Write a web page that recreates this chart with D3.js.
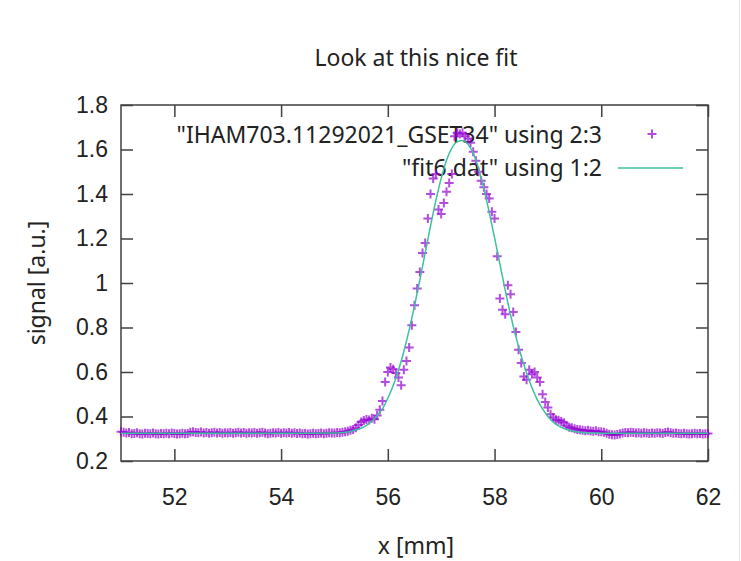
<!DOCTYPE html>
<html>
<head>
<meta charset="utf-8">
<script src="https://cdn.jsdelivr.net/npm/d3@7"></script>
<style>
  body { margin: 0; background: #fff; }
  svg { display: block; font-family: "Noto Sans", "Open Sans", sans-serif; }
</style>
</head>
<body>
<svg></svg>
<script>
// measured scan (x in mm, signal in a.u.)
let scatterX = [
  51, 51.05, 51.1, 51.15, 51.2, 51.25, 51.3, 51.35, 51.4, 51.45, 51.5, 51.55, 51.6, 51.65, 51.7, 51.75, 51.8, 51.85, 51.9, 51.95,
  52, 52.05, 52.1, 52.15, 52.2, 52.25, 52.3, 52.35, 52.4, 52.45, 52.5, 52.55, 52.6, 52.65, 52.7, 52.75, 52.8, 52.85, 52.9, 52.95,
  53, 53.05, 53.1, 53.15, 53.2, 53.25, 53.3, 53.35, 53.4, 53.45, 53.5, 53.55, 53.6, 53.65, 53.7, 53.75, 53.8, 53.85, 53.9, 53.95,
  54, 54.05, 54.1, 54.15, 54.2, 54.25, 54.3, 54.35, 54.4, 54.45, 54.5, 54.55, 54.6, 54.65, 54.7, 54.75, 54.8, 54.85, 54.9, 54.95,
  55, 55.05, 55.1, 55.15, 55.2, 55.25, 55.3, 55.35, 55.4, 55.45, 55.5, 55.55, 55.6, 55.65, 55.7, 55.75, 55.8, 55.85, 55.9, 55.95,
  56, 56.05, 56.1, 56.15, 56.2, 56.25, 56.3, 56.35, 56.4, 56.45, 56.5, 56.55, 56.6, 56.65, 56.7, 56.75, 56.8, 56.85, 56.9, 56.95,
  57, 57.05, 57.1, 57.15, 57.2, 57.25, 57.3, 57.35, 57.4, 57.45, 57.5, 57.55, 57.6, 57.65, 57.7, 57.75, 57.8, 57.85, 57.9, 57.95,
  58, 58.05, 58.1, 58.15, 58.2, 58.25, 58.3, 58.35, 58.4, 58.45, 58.5, 58.55, 58.6, 58.65, 58.7, 58.75, 58.8, 58.85, 58.9, 58.95,
  59, 59.05, 59.1, 59.15, 59.2, 59.25, 59.3, 59.35, 59.4, 59.45, 59.5, 59.55, 59.6, 59.65, 59.7, 59.75, 59.8, 59.85, 59.9, 59.95,
  60, 60.05, 60.1, 60.15, 60.2, 60.25, 60.3, 60.35, 60.4, 60.45, 60.5, 60.55, 60.6, 60.65, 60.7, 60.75, 60.8, 60.85, 60.9, 60.95,
  61, 61.05, 61.1, 61.15, 61.2, 61.25, 61.3, 61.35, 61.4, 61.45, 61.5, 61.55, 61.6, 61.65, 61.7, 61.75, 61.8, 61.85, 61.9, 61.95,
  62
];
let scatterY = [
  0.331, 0.329, 0.326, 0.328, 0.322, 0.324, 0.327, 0.323, 0.321, 0.325, 0.324, 0.322, 0.326, 0.323, 0.321, 0.324, 0.322, 0.325, 0.323, 0.326,
  0.324, 0.321, 0.323, 0.325, 0.322, 0.324, 0.329, 0.331, 0.328, 0.327, 0.330, 0.326, 0.328, 0.325, 0.327, 0.329, 0.326, 0.328, 0.325, 0.327,
  0.326, 0.328, 0.325, 0.327, 0.329, 0.326, 0.328, 0.325, 0.327, 0.326, 0.328, 0.325, 0.327, 0.329, 0.326, 0.323, 0.325, 0.327, 0.326, 0.328,
  0.325, 0.327, 0.326, 0.328, 0.325, 0.327, 0.324, 0.326, 0.322, 0.324, 0.321, 0.323, 0.325, 0.322, 0.324, 0.326, 0.323, 0.325, 0.327, 0.326,
  0.326, 0.328, 0.327, 0.329, 0.331, 0.334, 0.338, 0.342, 0.350, 0.362, 0.375, 0.382, 0.386, 0.384, 0.392, 0.388, 0.405, 0.430, 0.470, 0.555,
  0.600, 0.620, 0.612, 0.595, 0.575, 0.540, 0.610, 0.650, 0.710, 0.810, 0.900, 0.975, 1.050, 1.135, 1.180, 1.290, 1.400, 1.470, 1.490, 1.330,
  1.310, 1.360, 1.410, 1.450, 1.490, 1.660, 1.675, 1.670, 1.675, 1.660, 1.650, 1.630, 1.590, 1.550, 1.500, 1.460, 1.430, 1.400, 1.380, 1.320,
  1.290, 1.120, 0.930, 0.880, 0.860, 0.990, 0.950, 0.870, 0.780, 0.700, 0.640, 0.580, 0.565, 0.610, 0.590, 0.600, 0.575, 0.555, 0.500, 0.465,
  0.440, 0.410, 0.395, 0.385, 0.383, 0.378, 0.372, 0.360, 0.352, 0.350, 0.345, 0.342, 0.340, 0.338, 0.336, 0.338, 0.335, 0.334, 0.336, 0.332,
  0.331, 0.329, 0.325, 0.320, 0.318, 0.317, 0.319, 0.322, 0.326, 0.328, 0.327, 0.329, 0.328, 0.326, 0.327, 0.325, 0.327, 0.326, 0.324, 0.326,
  0.325, 0.327, 0.326, 0.324, 0.328, 0.330, 0.327, 0.325, 0.326, 0.324, 0.322, 0.325, 0.323, 0.321, 0.323, 0.325, 0.322, 0.324, 0.321, 0.323,
  0.324
];

// fit curve
let fitX = [
  51, 52, 53, 54, 54.5, 55, 55.1, 55.2, 55.3, 55.4, 55.5, 55.6, 55.7, 55.8, 55.9,
  56, 56.1, 56.2, 56.3, 56.4, 56.5, 56.6, 56.7, 56.8, 56.9,
  57, 57.1, 57.2, 57.3, 57.4, 57.5, 57.6, 57.7, 57.8, 57.9,
  58, 58.1, 58.2, 58.3, 58.4, 58.5, 58.6, 58.7, 58.8, 58.9,
  59, 59.1, 59.2, 59.3, 59.4, 59.5, 59.6, 59.7, 59.8, 59.9,
  60, 60.5, 61, 62
];
let fitY = [
  0.325, 0.325, 0.325, 0.325, 0.325, 0.326, 0.327, 0.329, 0.333, 0.339, 0.347, 0.360, 0.379, 0.404, 0.434,
  0.482, 0.538, 0.608, 0.692, 0.789, 0.897, 1.013, 1.135, 1.256, 1.370,
  1.470, 1.552, 1.606, 1.634, 1.640, 1.625, 1.584, 1.515, 1.424, 1.318,
  1.204, 1.086, 0.968, 0.857, 0.759, 0.672, 0.596, 0.530, 0.476, 0.434,
  0.400, 0.375, 0.358, 0.346, 0.338, 0.333, 0.329, 0.327, 0.326, 0.326,
  0.325, 0.325, 0.325, 0.325
];

let xTicks = [52, 54, 56, 58, 60, 62];
let yTicks = [0.2, 0.4, 0.6, 0.8, 1, 1.2, 1.4, 1.6, 1.8];
let legendLabels = ['"IHAM703.11292021_GSET34" using 2:3', '"fit6.dat" using 1:2'];

let width = 741, height = 561;
let plotLeft = 121, plotRight = 708, plotTop = 105, plotBottom = 461;
let pointColor = '#9400d3', lineColor = '#3cc09f', axisColor = '#404040';
let fontSize = '23px';

let svg = d3.select('svg').attr('width', width).attr('height', height);

let xScale = d3.scaleLinear().domain([51, 62]).range([plotLeft, plotRight]);
let yScale = d3.scaleLinear().domain([0.2, 1.8]).range([plotBottom, plotTop]);

// axes, ticks pointing inwards on all four sides
let styleAxis = (g) => {
    g.select('.domain').remove();
    g.selectAll('.tick line').attr('stroke', axisColor).attr('stroke-width', 1.5);
    g.selectAll('.tick text').attr('fill', '#222').style('font-size', fontSize);
};

svg.append('g')
    .attr('transform', `translate(0, ${plotBottom})`)
    .call(d3.axisBottom(xScale).tickValues(xTicks).tickSize(-12).tickPadding(28).tickFormat(d3.format('d')))
    .call(styleAxis);
svg.append('g')
    .attr('transform', `translate(0, ${plotTop})`)
    .call(d3.axisTop(xScale).tickValues(xTicks).tickSize(-12).tickFormat(''))
    .call(styleAxis);
svg.append('g')
    .attr('transform', `translate(${plotLeft}, 0)`)
    .call(d3.axisLeft(yScale).tickValues(yTicks).tickSize(-12).tickPadding(13).tickFormat((d) => String(+d.toFixed(1))))
    .call(styleAxis);
svg.append('g')
    .attr('transform', `translate(${plotRight}, 0)`)
    .call(d3.axisRight(yScale).tickValues(yTicks).tickSize(-12).tickFormat(''))
    .call(styleAxis);

svg.append('rect')
    .attr('x', plotLeft).attr('y', plotTop)
    .attr('width', plotRight - plotLeft).attr('height', plotBottom - plotTop)
    .attr('fill', 'none').attr('stroke', axisColor).attr('stroke-width', 1.5);

// titles
svg.append('text').attr('x', 416).attr('y', 66).attr('text-anchor', 'middle')
    .style('font-size', fontSize).attr('fill', '#222').text('Look at this nice fit');
svg.append('text').attr('x', 416).attr('y', 554).attr('text-anchor', 'middle')
    .style('font-size', fontSize).attr('fill', '#222').text('x [mm]');
svg.append('text').attr('transform', 'translate(45, 283) rotate(-90)').attr('text-anchor', 'middle')
    .style('font-size', fontSize).attr('fill', '#222').text('signal [a.u.]');

// legend (drawn before the data so points sit on top)
let legend = svg.append('g');
legendLabels.forEach((label, i) => {
    legend.append('text').attr('x', 602).attr('y', 135 + i * 33).attr('dy', '0.35em')
        .attr('text-anchor', 'end').style('font-size', fontSize).attr('fill', '#222').text(label);
});
let plus = (sel, cx, cy) => {
    sel.append('path')
        .attr('d', `M${cx - 4.5},${cy}H${cx + 4.5}M${cx},${cy - 4.5}V${cy + 4.5}`)
        .attr('stroke', pointColor).attr('stroke-width', 2).attr('stroke-opacity', 0.7);
};
plus(legend, 652, 134);
legend.append('line').attr('x1', 618).attr('x2', 683).attr('y1', 168).attr('y2', 168)
    .attr('stroke', lineColor).attr('stroke-width', 1.5);

// scatter points
let points = svg.append('g');
scatterX.forEach((x, i) => plus(points, xScale(x), yScale(scatterY[i])));

// fit line
let line = d3.line().x((d) => xScale(d[0])).y((d) => yScale(d[1])).curve(d3.curveMonotoneX);
svg.append('path')
    .datum(fitX.map((x, i) => [x, fitY[i]]))
    .attr('d', line)
    .attr('fill', 'none').attr('stroke', lineColor).attr('stroke-width', 1.5);

// faint frame line at the right edge, as in the screenshot
svg.append('line').attr('x1', 739.5).attr('x2', 739.5).attr('y1', 0).attr('y2', height)
    .attr('stroke', '#e4e4e4');
</script>
</body>
</html>
